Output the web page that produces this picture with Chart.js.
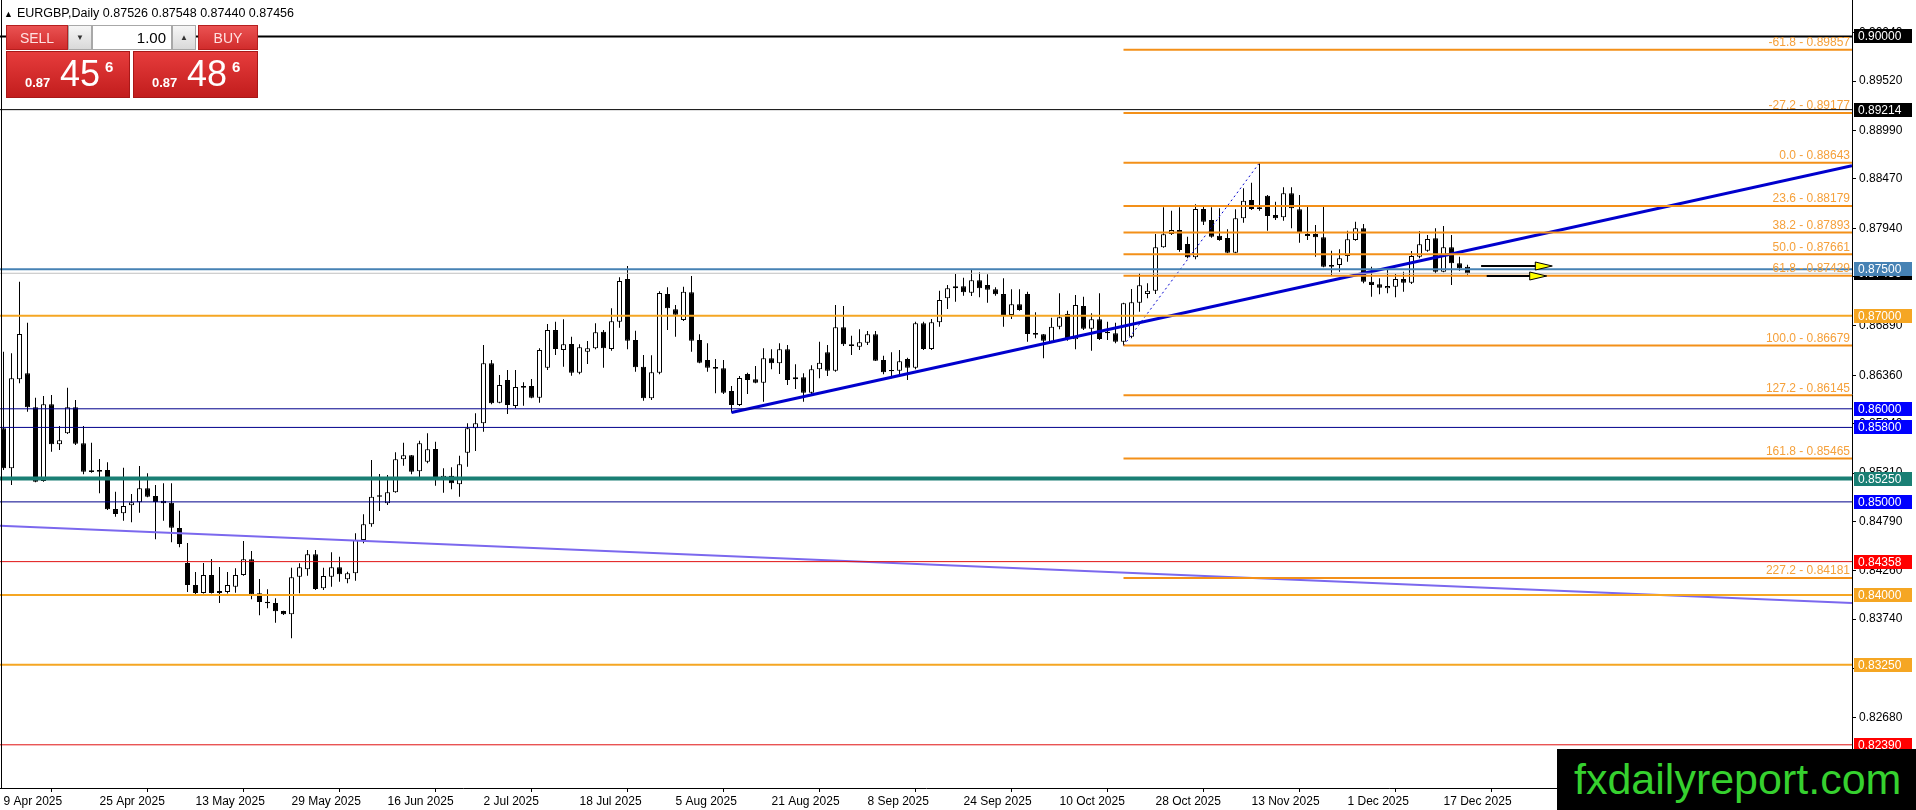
<!DOCTYPE html>
<html>
<head>
<meta charset="utf-8">
<title>EURGBP, Daily</title>
<script src="https://cdn.jsdelivr.net/npm/chart.js@4.4.1/dist/chart.umd.min.js"></script>
<style>
  html, body { margin: 0; padding: 0; background: #fff; overflow: hidden; }
  #wrap { position: relative; width: 1916px; height: 810px; font-family: "Liberation Sans", Arial, sans-serif; }
  #c { position: absolute; left: 0; top: 0; }
  #hdr { position: absolute; left: 4px; top: 6px; font-size: 12.5px; color: #000; white-space: nowrap; }
  #hdr .tri { font-size: 9px; margin-right: 4px; }
  #panel { position: absolute; left: 5px; top: 24px; width: 254px; height: 75px; }
  .btn { position: absolute; top: 1px; height: 25px; line-height: 25px; color: #ffe2e2; font-size: 14px; text-align: center;
         background: linear-gradient(#ea5252, #d12c2c); box-sizing: border-box; border: 1px solid #b51f1f; }
  .sell { left: 1px; width: 62px; }
  .buy { left: 193px; width: 60px; }
  .spin { position: absolute; top: 1px; width: 24px; height: 25px; box-sizing: border-box; background: linear-gradient(#f6f6f6, #d9d9d9);
          border: 1px solid #a8a8a8; font-size: 8px; line-height: 23px; text-align: center; color: #333; }
  .dn { left: 63px; } .up { left: 167px; }
  .lot { position: absolute; left: 87px; top: 1px; width: 80px; height: 25px; box-sizing: border-box; background: #fff;
         border: 1px solid #a8a8a8; font-size: 15px; line-height: 23px; text-align: right; padding-right: 5px; color: #000; }
  .px { position: absolute; top: 27px; height: 47px; background: linear-gradient(#e63c3c, #c21d1d); color: #fff;
        box-sizing: border-box; border: 1px solid #a81818; }
  .pxl { left: 1px; width: 124px; } .pxr { left: 128px; width: 125px; }
  .px span { position: absolute; line-height: 1; white-space: nowrap; }
  .px .sm { left: 18px; top: 24px; font-size: 13px; font-weight: bold; }
  .px .big { left: 53px; top: 4px; font-size: 36px; }
  .px .sup { left: 98px; top: 7px; font-size: 15px; font-weight: bold; }
  #wm { position: absolute; left: 1557px; top: 749px; width: 359px; height: 61px; background: #000; color: #36d12f;
        font-size: 43px; line-height: 61px; padding-left: 17px; box-sizing: border-box; white-space: nowrap; }
</style>
</head>
<body>
<div id="wrap">
  <canvas id="c" width="1916" height="810" style="width:1916px;height:810px"></canvas>
  <div id="hdr"><span class="tri">&#9650;</span><span id="hdrText"></span></div>
  <div id="panel">
    <div class="btn sell">SELL</div>
    <div class="spin dn">&#9660;</div>
    <div class="lot">1.00</div>
    <div class="spin up">&#9650;</div>
    <div class="btn buy">BUY</div>
    <div class="px pxl" id="bidBox"><span class="sm"></span><span class="big"></span><span class="sup"></span></div>
    <div class="px pxr" id="askBox"><span class="sm"></span><span class="big"></span><span class="sup"></span></div>
  </div>
  <div id="wm">fxdailyreport.com</div>
</div>
<script>
// EURGBP daily candles, 9 Apr 2025 .. 22 Dec 2025 (one per weekday)
const opens = [
  0.85790, 0.85361, 0.86317, 0.86381, 0.86016, 0.85224, 0.86048, 0.85618, 0.85737, 0.86016,
  0.85629, 0.85339, 0.85342, 0.85342, 0.84923, 0.84877, 0.84963, 0.84995, 0.85146, 0.85063,
  0.85013, 0.84991, 0.84719, 0.84343, 0.84107, 0.84021, 0.84214, 0.84042, 0.84032, 0.84089,
  0.84214, 0.84383, 0.84018, 0.83928, 0.83914, 0.83828, 0.83792, 0.84196, 0.84276, 0.84437,
  0.84071, 0.84196, 0.84297, 0.84168, 0.84233, 0.84590, 0.84759, 0.85071, 0.84985, 0.85103,
  0.85457, 0.85500, 0.85328, 0.85432, 0.85568, 0.85253, 0.85281, 0.85189, 0.85528, 0.85790,
  0.85844, 0.86489, 0.86065, 0.86309, 0.86030, 0.86245, 0.86245, 0.86119, 0.86441, 0.86846,
  0.86632, 0.86696, 0.86388, 0.86613, 0.86650, 0.86828, 0.86642, 0.86936, 0.87394, 0.86739,
  0.86452, 0.86113, 0.86388, 0.87233, 0.87069, 0.86954, 0.87251, 0.86739, 0.86524, 0.86449,
  0.86435, 0.86191, 0.86041, 0.86374, 0.86317, 0.86280, 0.86542, 0.86489, 0.86639, 0.86317,
  0.86338, 0.86173, 0.86424, 0.86607, 0.86409, 0.86875, 0.86693, 0.86667, 0.86710, 0.86800,
  0.86524, 0.86417, 0.86409, 0.86535, 0.86441, 0.86918, 0.86642, 0.86929, 0.87187, 0.87294,
  0.87316, 0.87247, 0.87380, 0.87330, 0.87284, 0.87233, 0.87008, 0.87122, 0.87233, 0.86814,
  0.86800, 0.86721, 0.86882, 0.87018, 0.86746, 0.87104, 0.86860, 0.86961, 0.86828, 0.86811,
  0.86721, 0.86774, 0.87140, 0.87233, 0.87269, 0.87735, 0.87878, 0.87921, 0.87770, 0.87627,
  0.88146, 0.88028, 0.87859, 0.87835, 0.87677, 0.88046, 0.88243, 0.88146, 0.88290, 0.88082,
  0.88057, 0.88315, 0.88143, 0.87856, 0.87878, 0.87842, 0.87545, 0.87545, 0.87641, 0.87813,
  0.87939, 0.87365, 0.87337, 0.87294, 0.87312, 0.87394, 0.87355, 0.87634, 0.87698, 0.87832,
  0.87473, 0.87735, 0.87563, 0.87526
];
const highs = [
  0.86613, 0.86596, 0.87365, 0.86925, 0.86119, 0.86137, 0.86148, 0.85815, 0.86227, 0.86094,
  0.85815, 0.85636, 0.85461, 0.85425, 0.85109, 0.85367, 0.85085, 0.85385, 0.85307, 0.85181,
  0.85200, 0.85200, 0.84905, 0.84558, 0.84247, 0.84343, 0.84386, 0.84300, 0.84247, 0.84286,
  0.84580, 0.84472, 0.84171, 0.84061, 0.83964, 0.83831, 0.84293, 0.84340, 0.84483, 0.84483,
  0.84293, 0.84458, 0.84411, 0.84250, 0.84662, 0.84866, 0.85450, 0.85299, 0.85289, 0.85533,
  0.85636, 0.85504, 0.85657, 0.85737, 0.85646, 0.85361, 0.85371, 0.85496, 0.85844, 0.85951,
  0.86685, 0.86524, 0.86363, 0.86417, 0.86417, 0.86285, 0.86320, 0.86650, 0.86911, 0.86936,
  0.86961, 0.86774, 0.86693, 0.86728, 0.86918, 0.86846, 0.87080, 0.87413, 0.87534, 0.86839,
  0.86578, 0.86575, 0.87262, 0.87305, 0.87115, 0.87312, 0.87427, 0.86800, 0.86704, 0.86535,
  0.86524, 0.86245, 0.86352, 0.86388, 0.86460, 0.86650, 0.86639, 0.86704, 0.86685, 0.86478,
  0.86381, 0.86467, 0.86721, 0.86685, 0.87115, 0.87104, 0.86785, 0.86854, 0.86836, 0.86836,
  0.86570, 0.86607, 0.86632, 0.86549, 0.86936, 0.86936, 0.86965, 0.87269, 0.87330, 0.87448,
  0.87408, 0.87491, 0.87466, 0.87445, 0.87305, 0.87402, 0.87284, 0.87284, 0.87258, 0.87037,
  0.86803, 0.86979, 0.87241, 0.87054, 0.87222, 0.87204, 0.87026, 0.87241, 0.86936, 0.86925,
  0.87140, 0.87287, 0.87455, 0.87348, 0.87878, 0.88165, 0.88128, 0.88165, 0.87849, 0.88197,
  0.88182, 0.88165, 0.88154, 0.87928, 0.88143, 0.88369, 0.88429, 0.88643, 0.88297, 0.88225,
  0.88379, 0.88379, 0.88297, 0.88171, 0.87974, 0.88171, 0.87698, 0.87713, 0.87913, 0.88010,
  0.87985, 0.87526, 0.87402, 0.87491, 0.87448, 0.87473, 0.87695, 0.87910, 0.87867, 0.87939,
  0.87964, 0.87867, 0.87634, 0.87548
];
const lows = [
  0.85342, 0.85181, 0.86274, 0.85969, 0.85210, 0.85217, 0.85539, 0.85557, 0.85729, 0.85611,
  0.85296, 0.85313, 0.85092, 0.84913, 0.84841, 0.84798, 0.84781, 0.84884, 0.85049, 0.84598,
  0.84798, 0.84566, 0.84512, 0.84032, 0.84010, 0.84015, 0.84015, 0.83914, 0.84015, 0.84024,
  0.84207, 0.83953, 0.83781, 0.83857, 0.83702, 0.83785, 0.83534, 0.84018, 0.84207, 0.84053,
  0.84053, 0.84089, 0.84142, 0.84125, 0.84153, 0.84555, 0.84733, 0.84902, 0.84966, 0.85099,
  0.85389, 0.85296, 0.85260, 0.85414, 0.85174, 0.85099, 0.85135, 0.85056, 0.85378, 0.85546,
  0.85754, 0.86048, 0.86059, 0.85944, 0.86005, 0.86033, 0.86113, 0.86065, 0.86417, 0.86578,
  0.86452, 0.86355, 0.86370, 0.86481, 0.86639, 0.86441, 0.86624, 0.86871, 0.86639, 0.86398,
  0.86087, 0.86094, 0.86370, 0.86846, 0.86774, 0.86943, 0.86613, 0.86489, 0.86398, 0.86166,
  0.86159, 0.85960, 0.86030, 0.86159, 0.86274, 0.86076, 0.86424, 0.86374, 0.86256, 0.86213,
  0.86076, 0.86159, 0.86327, 0.86352, 0.86398, 0.86675, 0.86578, 0.86632, 0.86685, 0.86513,
  0.86370, 0.86327, 0.86370, 0.86309, 0.86424, 0.86632, 0.86632, 0.86882, 0.87072, 0.87150,
  0.87215, 0.87212, 0.87198, 0.87140, 0.87215, 0.86882, 0.86965, 0.87054, 0.86721, 0.86757,
  0.86542, 0.86711, 0.86854, 0.86731, 0.86639, 0.86846, 0.86624, 0.86739, 0.86739, 0.86703,
  0.86679, 0.86757, 0.87043, 0.87187, 0.87233, 0.87731, 0.87867, 0.87688, 0.87617, 0.87606,
  0.87974, 0.87838, 0.87806, 0.87670, 0.87670, 0.87999, 0.88136, 0.88128, 0.87913, 0.88028,
  0.88021, 0.87939, 0.87784, 0.87813, 0.87634, 0.87520, 0.87437, 0.87473, 0.87580, 0.87806,
  0.87348, 0.87204, 0.87230, 0.87241, 0.87198, 0.87258, 0.87341, 0.87617, 0.87687, 0.87456,
  0.87466, 0.87330, 0.87483, 0.87440
];
const closes = [
  0.85361, 0.86327, 0.86803, 0.86016, 0.85217, 0.86048, 0.85618, 0.85661, 0.86016, 0.85625,
  0.85324, 0.85321, 0.85324, 0.84920, 0.84870, 0.84956, 0.84995, 0.85146, 0.85056, 0.84999,
  0.84985, 0.84723, 0.84547, 0.84107, 0.84021, 0.84214, 0.84021, 0.84021, 0.84107, 0.84214,
  0.84383, 0.84007, 0.83924, 0.83910, 0.83824, 0.83792, 0.84190, 0.84297, 0.84437, 0.84064,
  0.84204, 0.84297, 0.84222, 0.84233, 0.84590, 0.84759, 0.85056, 0.85056, 0.85103, 0.85457,
  0.85500, 0.85324, 0.85629, 0.85565, 0.85253, 0.85281, 0.85200, 0.85404, 0.85790, 0.85844,
  0.86489, 0.86059, 0.86256, 0.86041, 0.86234, 0.86227, 0.86119, 0.86632, 0.86846, 0.86642,
  0.86693, 0.86388, 0.86661, 0.86650, 0.86822, 0.86650, 0.86940, 0.87373, 0.86731, 0.86446,
  0.86113, 0.86392, 0.87244, 0.87080, 0.87011, 0.87258, 0.86731, 0.86495, 0.86441, 0.86431,
  0.86173, 0.86041, 0.86331, 0.86309, 0.86280, 0.86542, 0.86489, 0.86639, 0.86309, 0.86338,
  0.86173, 0.86424, 0.86495, 0.86409, 0.86875, 0.86693, 0.86675, 0.86714, 0.86800, 0.86517,
  0.86392, 0.86403, 0.86510, 0.86441, 0.86918, 0.86642, 0.86929, 0.87169, 0.87294, 0.87316,
  0.87251, 0.87380, 0.87294, 0.87279, 0.87230, 0.87008, 0.87122, 0.87061, 0.86803, 0.86796,
  0.86731, 0.86882, 0.86983, 0.86746, 0.87115, 0.86860, 0.86961, 0.86750, 0.86811, 0.86721,
  0.87133, 0.87144, 0.87327, 0.87269, 0.87735, 0.87874, 0.87921, 0.87706, 0.87627, 0.88146,
  0.88010, 0.87849, 0.87813, 0.87677, 0.88046, 0.88235, 0.88146, 0.88165, 0.88071, 0.88046,
  0.88315, 0.88154, 0.87885, 0.87878, 0.87842, 0.87526, 0.87526, 0.87617, 0.87821, 0.87939,
  0.87365, 0.87330, 0.87301, 0.87319, 0.87394, 0.87355, 0.87641, 0.87767, 0.87824, 0.87473,
  0.87735, 0.87563, 0.87509, 0.87456
];

// time axis labels (bar number -> date text)
const dateTickBars = [1, 13, 25, 37, 49, 61, 73, 85, 97, 109, 121, 133, 145, 157, 169, 181];
const dateTickLabels = ['9 Apr 2025', '25 Apr 2025', '13 May 2025', '29 May 2025', '16 Jun 2025', '2 Jul 2025',
  '18 Jul 2025', '5 Aug 2025', '21 Aug 2025', '8 Sep 2025', '24 Sep 2025', '10 Oct 2025',
  '28 Oct 2025', '13 Nov 2025', '1 Dec 2025', '17 Dec 2025'];

// price axis ticks
const priceTicks = [0.8215, 0.8268, 0.8321, 0.8374, 0.8426, 0.8479, 0.8531, 0.8584, 0.8636,
  0.8689, 0.8742, 0.8794, 0.8847, 0.8899, 0.8952, 0.9004];

// horizontal levels
const levelPrices = [0.90000, 0.89214, 0.87500, 0.87000, 0.86000, 0.85800, 0.85250, 0.85000, 0.84358, 0.84000, 0.83250, 0.82390];
const levelColors = ['#000000', '#000000', '#4682b4', '#f5a623', '#00008b', '#00008b', '#1a7f74', '#00008b', '#e01010', '#f5a623', '#f5a623', '#e01010'];
const levelBoxColors = ['#000000', '#000000', '#4682b4', '#f5a623', '#0000ff', '#0000ff', '#1a7f74', '#0000ff', '#ff0000', '#f5a623', '#f5a623', '#ff0000'];
const levelWidths = [2, 1, 2, 2, 1, 1, 4, 1, 1, 2, 2, 1];

// current bid / ask
const bidPrice = 0.87456;
const askPrice = 0.87486;

// fibonacci retracement between bar 141 low and bar 158 high
const fibFromBar = 141;
const fibToBar = 158;
const fibLevels = [-61.8, -27.2, 0.0, 23.6, 38.2, 50.0, 61.8, 100.0, 127.2, 161.8, 227.2];
const fibPrices = [0.89857, 0.89177, 0.88643, 0.88179, 0.87893, 0.87661, 0.87429, 0.86679, 0.86145, 0.85465, 0.84181];

// trend lines: [bar, price] pairs
const blueTrend = [[92, 0.85960], [232.0625, 0.88612]];
const purpleTrend = [[0.5625, 0.84744], [232.0625, 0.83914]];

// arrows right of the last bar: [fromBar, tipBar, price]
const arrowMarks = [[185.7, 194.6, 0.87535], [186.4, 193.9, 0.87429]];

const X_MIN = 0.5625, X_MAX = 232.0625;
const Y_MIN = 0.81926, Y_MAX = 0.90392;

const FONT = '"Liberation Sans", Arial, sans-serif';
Chart.defaults.font.family = FONT;
Chart.defaults.font.size = 12;
Chart.defaults.color = '#000';

const bars = opens.map((_, i) => i + 1);
const wickData = bars.map((b, i) => ({ x: b, y: [lows[i], highs[i]] }));
const bodyData = bars.map((b, i) => ({ x: b, y: [opens[i], closes[i]] }));
const bodyFill = bars.map((b, i) => (closes[i] > opens[i] ? '#ffffff' : '#000000'));

const seg = (pts, color, width, extra) => Object.assign({
  type: 'line',
  data: pts.map(p => ({ x: p[0], y: p[1] })),
  borderColor: color,
  borderWidth: width,
  pointRadius: 0,
  tension: 0,
  fill: false,
  order: 1
}, extra || {});

const datasets = [];
// horizontal level lines
levelPrices.forEach((v, i) => datasets.push(seg([[X_MIN, v], [X_MAX, v]], levelColors[i], levelWidths[i])));
// bid line
datasets.push(seg([[X_MIN, bidPrice], [X_MAX, bidPrice]], '#c0c0c0', 1));
// fib levels
fibPrices.forEach(v => datasets.push(seg([[fibFromBar, v], [X_MAX, v]], '#f39019', 2)));
// fib diagonal
datasets.push(seg([[fibFromBar, fibPrices[7]], [fibToBar, fibPrices[2]]], '#0000cd', 1, { borderDash: [2, 3] }));
// trend lines
datasets.push(seg(purpleTrend, '#7b68ee', 2));
datasets.push(seg(blueTrend, '#0000cd', 3));
// candles
datasets.push({
  type: 'bar', data: wickData, backgroundColor: '#000', barThickness: 1, grouped: false,
  borderWidth: 0, inflateAmount: 0, order: 11
});
datasets.push({
  type: 'bar', data: bodyData, backgroundColor: bodyFill, borderColor: '#000', borderWidth: 1,
  borderSkipped: false, barThickness: 5, grouped: false, minBarLength: 1, inflateAmount: 0, order: 10
});

const overlay = {
  id: 'overlay',
  afterDatasetsDraw(chart) {
    const { ctx, chartArea: a, scales: { x, y } } = chart;
    ctx.save();
    // fib labels
    ctx.font = '12px ' + FONT;
    ctx.fillStyle = '#f5a03a';
    ctx.textAlign = 'right';
    ctx.textBaseline = 'bottom';
    fibPrices.forEach((v, i) => {
      const py = y.getPixelForValue(v);
      ctx.fillText(fibLevels[i].toFixed(1) + ' - ' + v.toFixed(5), a.right - 2, py - 1);
    });
    // arrows
    arrowMarks.forEach(m => {
      const x1 = x.getPixelForValue(m[0]);
      const x2 = x.getPixelForValue(m[1]);
      const py = Math.round(y.getPixelForValue(m[2]));
      ctx.strokeStyle = '#000';
      ctx.lineWidth = 2;
      ctx.beginPath(); ctx.moveTo(x1, py); ctx.lineTo(x2 - 14, py); ctx.stroke();
      ctx.beginPath();
      ctx.moveTo(x2 - 17, py - 4); ctx.lineTo(x2, py); ctx.lineTo(x2 - 17, py + 4); ctx.closePath();
      ctx.fillStyle = '#ffff00'; ctx.fill();
      ctx.lineWidth = 1; ctx.stroke();
    });
    // left frame
    ctx.strokeStyle = '#000';
    ctx.lineWidth = 1;
    ctx.beginPath(); ctx.moveTo(1.5, a.top); ctx.lineTo(1.5, a.bottom); ctx.stroke();
    ctx.restore();
  },
  afterDraw(chart) {
    const { ctx, chartArea: a, scales: { y } } = chart;
    ctx.save();
    ctx.font = '12px ' + FONT;
    ctx.textAlign = 'left';
    ctx.textBaseline = 'middle';
    const box = (v, bg) => {
      const py = Math.round(y.getPixelForValue(v));
      ctx.fillStyle = bg;
      ctx.fillRect(a.right + 2, py - 7, 58, 14);
      ctx.fillStyle = '#fff';
      ctx.fillText(v.toFixed(5), a.right + 6, py + 1);
    };
    box(bidPrice, '#000000');
    levelPrices.forEach((v, i) => box(v, levelBoxColors[i]));
    ctx.restore();
  }
};

new Chart(document.getElementById('c'), {
  type: 'bar',
  data: { datasets },
  options: {
    responsive: false,
    animation: false,
    devicePixelRatio: 1,
    layout: { padding: 0, autoPadding: false },
    plugins: { legend: { display: false }, tooltip: { enabled: false } },
    events: [],
    scales: {
      x: {
        type: 'linear',
        min: X_MIN,
        max: X_MAX,
        offset: false,
        grid: { drawOnChartArea: false, tickLength: 4, color: '#000' },
        border: { color: '#000' },
        ticks: { align: 'start', autoSkip: false, maxRotation: 0, minRotation: 0, padding: 2,
                 callback: (v, i) => dateTickLabels[i] },
        afterBuildTicks: s => { s.ticks = dateTickBars.map(v => ({ value: v })); },
        afterFit: s => { s.height = 22; s.paddingLeft = 0; s.paddingRight = 0; }
      },
      y: {
        position: 'right',
        min: Y_MIN,
        max: Y_MAX,
        grid: { drawOnChartArea: false, tickLength: 4, color: '#000' },
        border: { color: '#000' },
        ticks: { padding: 3, callback: v => v.toFixed(5) },
        afterBuildTicks: s => { s.ticks = priceTicks.map(v => ({ value: v })); },
        afterFit: s => { s.width = 64; s.paddingTop = 0; s.paddingBottom = 0; }
      }
    }
  },
  plugins: [overlay]
});

// header and one-click panel text from the data
const n = opens.length - 1;
document.getElementById('hdrText').textContent = 'EURGBP,Daily  ' +
  [opens[n], highs[n], lows[n], closes[n]].map(v => v.toFixed(5)).join(' ');
const fillPx = (id, v) => {
  const s = v.toFixed(5);
  const el = document.getElementById(id).children;
  el[0].textContent = s.slice(0, 4);
  el[1].textContent = s.slice(4, 6);
  el[2].textContent = s.slice(6);
};
fillPx('bidBox', bidPrice);
fillPx('askBox', askPrice);
</script>
</body>
</html>
